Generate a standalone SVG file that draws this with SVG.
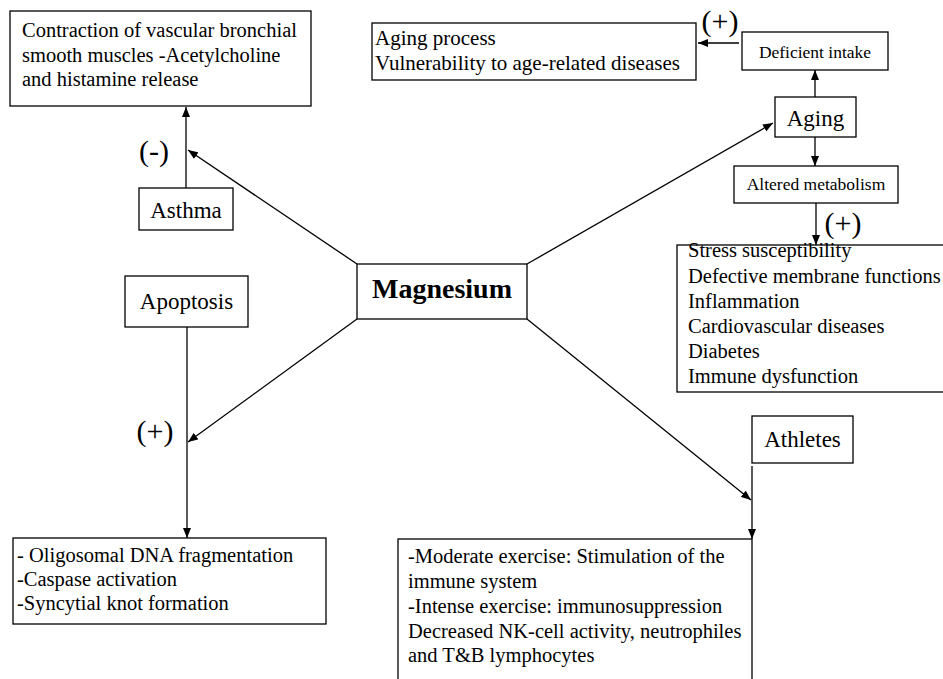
<svg xmlns="http://www.w3.org/2000/svg" width="943" height="679" viewBox="0 0 943 679">
<defs>
<marker id="ah" viewBox="0 0 10 8" refX="10" refY="4" markerWidth="10" markerHeight="8" markerUnits="userSpaceOnUse" orient="auto">
<path d="M0,0 L10,4 L0,8 Z" fill="#000"/>
</marker>
</defs>
<style>
rect{fill:#fff;stroke:#000;stroke-width:1.3}
text{font-family:"Liberation Serif","Times New Roman",serif;fill:#000}
.b{font-size:20.5px}
.w{font-size:23px;text-anchor:middle}
.s{font-size:17.5px;text-anchor:middle}
.p{font-size:30px;text-anchor:middle}
.c line{stroke:#000;stroke-width:1.3;marker-end:url(#ah)}
</style>
<rect x="0" y="0" width="943" height="679" style="fill:#fff;stroke:none"/>
<g class="c" id="connectors">
<line x1="186" y1="188" x2="186" y2="107"/>
<line x1="357" y1="264" x2="188" y2="150"/>
<line x1="739" y1="43" x2="698" y2="43"/>
<line x1="815" y1="97" x2="815" y2="70"/>
<line x1="815" y1="137" x2="815" y2="166"/>
<line x1="816" y1="203" x2="816" y2="245"/>
<line x1="527" y1="264" x2="773" y2="123"/>
<line x1="187" y1="327" x2="187" y2="538"/>
<line x1="357" y1="319" x2="188" y2="442"/>
<line x1="527" y1="319" x2="751" y2="500"/>
<line x1="752" y1="466" x2="752" y2="539"/>
</g>
<g id="labels">
<text class="p" x="154" y="161">(-)</text>
<text class="p" x="720" y="31">(+)</text>
<text class="p" x="843" y="233">(+)</text>
<text class="p" x="155" y="441">(+)</text>
</g>
<g id="contraction">
<rect x="10" y="11" width="301" height="95"/>
<text class="b" x="22" y="37">Contraction of vascular bronchial</text>
<text class="b" x="22" y="62">smooth muscles -Acetylcholine</text>
<text class="b" x="22" y="86">and histamine release</text>
</g>
<g id="asthma">
<rect x="139" y="188" width="94" height="42"/>
<text class="w" x="186" y="218">Asthma</text>
</g>
<g id="aging-process">
<rect x="372" y="23" width="324" height="57"/>
<text x="375" y="45" style="font-size:21px">Aging process</text>
<text x="375" y="70" style="font-size:21px">Vulnerability to age-related diseases</text>
</g>
<g id="deficient">
<rect x="742" y="32" width="146" height="38"/>
<text class="s" x="815" y="58">Deficient intake</text>
</g>
<g id="aging">
<rect x="775" y="97" width="81" height="40"/>
<text class="w" x="815.5" y="126">Aging</text>
</g>
<g id="altered">
<rect x="734" y="166" width="164" height="37"/>
<text class="s" x="816" y="190">Altered metabolism</text>
</g>
<g id="stress">
<rect x="677" y="245" width="280" height="147"/>
<text class="b" x="688" y="257">Stress susceptibility</text>
<text class="b" x="688" y="283">Defective membrane functions</text>
<text class="b" x="688" y="308">Inflammation</text>
<text class="b" x="688" y="333">Cardiovascular diseases</text>
<text class="b" x="688" y="358">Diabetes</text>
<text class="b" x="688" y="383">Immune dysfunction</text>
</g>
<g id="magnesium">
<rect x="357" y="264" width="170" height="55"/>
<text x="442" y="298" style="font-size:28px;font-weight:bold;text-anchor:middle">Magnesium</text>
</g>
<g id="apoptosis">
<rect x="125" y="276" width="123" height="51"/>
<text class="w" x="186.5" y="309">Apoptosis</text>
</g>
<g id="apoptosis-effects">
<rect x="13" y="538" width="313" height="86"/>
<text class="b" x="17" y="562">- Oligosomal DNA fragmentation</text>
<text class="b" x="17" y="586">-Caspase activation</text>
<text class="b" x="17" y="610">-Syncytial knot formation</text>
</g>
<g id="athletes">
<rect x="752" y="416" width="101" height="47"/>
<text class="w" x="802.5" y="447">Athletes</text>
</g>
<g id="athletes-effects">
<rect x="398" y="539" width="354" height="160"/>
<text class="b" x="408" y="563">-Moderate exercise: Stimulation of the</text>
<text class="b" x="408" y="588">immune system</text>
<text class="b" x="408" y="613">-Intense exercise: immunosuppression</text>
<text class="b" x="408" y="638">Decreased NK-cell activity, neutrophiles</text>
<text class="b" x="408" y="662">and T&amp;B lymphocytes</text>
</g>
</svg>
